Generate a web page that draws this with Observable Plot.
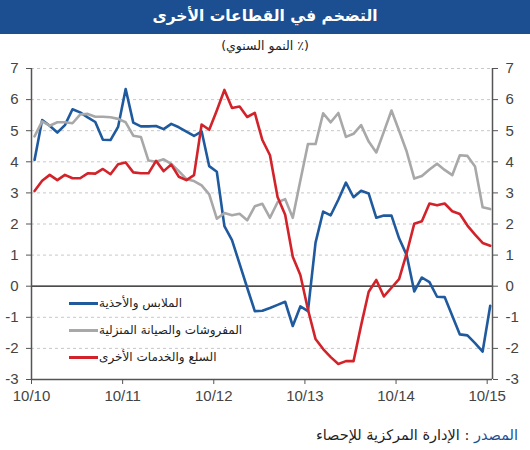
<!DOCTYPE html>
<html><head><meta charset="utf-8">
<script src="https://cdn.jsdelivr.net/npm/d3@7"></script>
<script src="https://cdn.jsdelivr.net/npm/@observablehq/plot@0.6"></script>
<style>
body{margin:0;background:#fff;}
#wrap{position:relative;width:530px;height:450px;overflow:hidden;}
#title{position:absolute;left:0;top:0;width:530px;height:34px;background:#1b4f91;color:#fff;font:bold 15.5px "DejaVu Sans",sans-serif;text-align:center;line-height:33px;direction:rtl;}
#sub{position:absolute;left:0;top:38px;width:530px;text-align:center;font:12.5px "DejaVu Sans",sans-serif;color:#222;direction:rtl;}
#chart{position:absolute;left:0;top:55px;}
.leg{position:absolute;left:69px;height:16px;font:12px "DejaVu Sans",sans-serif;color:#222;white-space:nowrap;}
.leg span.sw{display:inline-block;width:29px;height:3px;vertical-align:middle;margin-right:1px;}
#src{position:absolute;right:12px;top:427px;font:14.5px "DejaVu Sans",sans-serif;color:#222;direction:rtl;white-space:nowrap;}
</style></head>
<body><div id="wrap">
<div id="title">التضخم في القطاعات الأخرى</div>
<div id="sub">(٪ النمو السنوي)</div>
<div id="chart"></div>
<div id="legend"></div>
<div id="src"><span style="color:#1b4f91">المصدر</span> : الإدارة المركزية للإحصاء</div>
</div>
<script>
const seriesNames = ["الملابس والأحذية", "المفروشات والصيانة المنزلية", "السلع والخدمات الأخرى"];
const colors = ["#1f5a9e", "#a8a8a8", "#d2232a"];
const tickLabels = ["10/10", "10/11", "10/12", "10/13", "10/14", "10/15"];
const tickPos = [-0.4, 11.6, 23.6, 35.6, 47.6, 59.6];
const yTicks = [-3, -2, -1, 0, 1, 2, 3, 4, 5, 6, 7];
const xDomain = [-0.4, 60.3];

const blue = [4.06, 5.34, 5.16, 4.94, 5.18, 5.69, 5.59, 5.43, 5.28, 4.71, 4.70, 5.12, 6.34, 5.26, 5.14, 5.14,
  5.15, 5.05, 5.22, 5.11, 4.97, 4.83, 4.98, 3.86, 3.68, 1.93, 1.48, 0.72, -0.05, -0.80, -0.79,
  -0.70, -0.60, -0.50, -1.28, -0.65, -0.80, 1.40, 2.40, 2.28, 2.78, 3.33, 2.86, 3.07, 2.98, 2.20,
  2.27, 2.27, 1.54, 1.00, -0.17, 0.28, 0.13, -0.34, -0.35, -0.95, -1.55, -1.58, -1.83, -2.10, -0.63];
const gray = [4.82, 5.30, 5.16, 5.27, 5.27, 5.24, 5.52, 5.54, 5.45, 5.45, 5.43, 5.38, 5.27, 4.84, 4.80, 4.04,
  4.00, 4.08, 3.93, 3.70, 3.44, 3.38, 3.24, 2.95, 2.17, 2.35, 2.28, 2.33, 2.12, 2.57, 2.65,
  2.20, 2.70, 2.80, 2.20, 3.40, 4.57, 4.57, 5.56, 5.27, 5.57, 4.80, 4.90, 5.18, 4.65, 4.30,
  4.97, 5.65, 5.00, 4.33, 3.46, 3.54, 3.75, 3.94, 3.74, 3.57, 4.21, 4.19, 3.85, 2.54, 2.48];
const red = [3.06, 3.39, 3.58, 3.41, 3.58, 3.47, 3.47, 3.63, 3.62, 3.77, 3.60, 3.92, 3.98, 3.66, 3.63, 3.63,
  4.03, 3.70, 3.91, 3.52, 3.41, 3.57, 5.20, 5.03, 5.65, 6.31, 5.73, 5.78, 5.44, 5.57, 4.70,
  4.21, 2.87, 2.30, 0.95, 0.36, -0.75, -1.70, -2.02, -2.28, -2.50, -2.41, -2.41, -1.26, -0.18, 0.20,
  -0.33, -0.05, 0.23, 1.06, 2.01, 2.09, 2.66, 2.60, 2.66, 2.41, 2.32, 1.95, 1.66, 1.39, 1.30];

const data = [];
[blue, gray, red].forEach((arr, s) => arr.forEach((v, i) => data.push({i, v, s: seriesNames[s]})));

const axisOpts = {ticks: yTicks, tickSize: 5, tickPadding: 8, label: null, tickFormat: d => String(d), stroke: "#555"};

const chart = Plot.plot({
  width: 530, height: 355,
  marginTop: 13, marginBottom: 31, marginLeft: 31, marginRight: 38,
  x: {domain: xDomain},
  y: {domain: [-3, 7]},
  color: {domain: seriesNames, range: colors},
  style: {fontFamily: "Liberation Sans, Arial, sans-serif", fontSize: "15px", color: "#444", background: "transparent"},
  marks: [
    Plot.ruleY(yTicks.filter(d => d > -3 && d !== 0), {stroke: "#c8c8c8", strokeDasharray: "3,3"}),
    Plot.ruleY([0], {stroke: "#111", strokeWidth: 1.3}),
    Plot.ruleX(xDomain, {stroke: "#555", strokeWidth: 1.5}),
    Plot.ruleY([-3], {stroke: "#555", strokeWidth: 1.5}),
    Plot.axisY({anchor: "left", ...axisOpts}),
    Plot.axisY({anchor: "right", ...axisOpts}),
    Plot.axisX({ticks: tickPos, tickFormat: d => tickLabels[tickPos.indexOf(d)], tickSize: 5, tickPadding: 6, label: null, stroke: "#555"}),
    Plot.line(data, {x: "i", y: "v", z: "s", stroke: "s", strokeWidth: 2.6})
  ]
});
document.getElementById("chart").appendChild(chart);

const legTops = [296, 323, 350];
const leg = document.getElementById("legend");
seriesNames.forEach((n, k) => {
  const d = document.createElement("div");
  d.className = "leg";
  d.style.top = legTops[k] + "px";
  d.innerHTML = `<span class="sw" style="background:${colors[k]}"></span><span>${n}</span>`;
  leg.appendChild(d);
});
</script>
</body></html>
